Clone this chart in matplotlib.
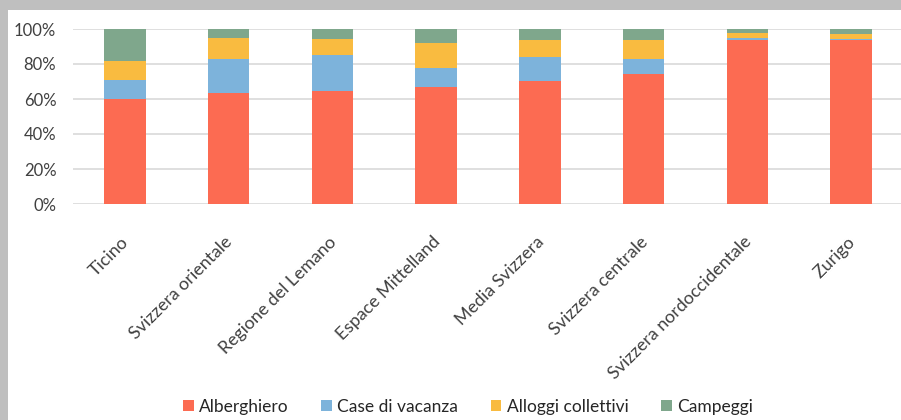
import matplotlib
matplotlib.use("Agg")
import matplotlib.pyplot as plt
from matplotlib.patches import Rectangle
from matplotlib.ticker import FuncFormatter
from matplotlib.transforms import ScaledTranslation
import numpy as np

plt.rcParams['font.family'] = ['Lato', 'DejaVu Sans']

regions = ["Ticino", "Svizzera orientale", "Regione del Lemano", "Espace Mittelland",
           "Media Svizzera", "Svizzera centrale", "Svizzera nordoccidentale", "Zurigo"]
alberghiero = [59.8, 63.4, 64.8, 66.7, 70.3, 74.5, 93.5, 93.5]
case_vacanza = [11.1, 19.3, 20.3, 11.2, 13.7, 8.2, 1.2, 0.6]
alloggi_collettivi = [10.8, 12.2, 9.0, 14.3, 9.5, 10.8, 3.0, 3.0]
campeggi = [18.3, 5.1, 5.9, 7.8, 6.5, 6.5, 2.3, 2.9]

series = [("Alberghiero", alberghiero, "#FC6B52"),
          ("Case di vacanza", case_vacanza, "#7DB3DB"),
          ("Alloggi collettivi", alloggi_collettivi, "#F9BB40"),
          ("Campeggi", campeggi, "#7FA78C")]

W, H = 901, 420
fig = plt.figure(figsize=(W / 100, H / 100), dpi=100, facecolor="#BFBFBF")
fig.patches.append(Rectangle((8 / W, 0), 1, (H - 10) / H, transform=fig.transFigure,
                             facecolor="white", edgecolor="none", zorder=-10))

ax = fig.add_axes([73 / W, (H - 204) / H, (903 - 73) / W, 175 / H])
ax.set_facecolor("none")

x = np.arange(len(regions))
bottom = np.zeros(len(regions))
for name, vals, color in series:
    vals = np.array(vals)
    ax.bar(x, vals, width=0.4, bottom=bottom, color=color, label=name, zorder=3,
           edgecolor="none")
    bottom += vals

ax.set_xlim(-0.5, len(regions) - 0.5)
ax.set_ylim(0, 100)
ax.set_yticks(np.arange(0, 101, 20))
ax.yaxis.set_major_formatter(FuncFormatter(lambda v, p: f"{int(v)}%"))
ax.grid(axis="y", color="#D9D9D9", linewidth=1.2, zorder=0)
for s in ax.spines.values():
    s.set_visible(False)
ax.tick_params(axis="y", length=0, colors="#404040", labelsize=12, pad=12)

# category labels: baseline end sits just right of and below each bar centre
ax.set_xticks(x)
ax.set_xticklabels(regions, rotation=45, ha="right", va="baseline",
                   rotation_mode="anchor")
ax.tick_params(axis="x", length=0, colors="#404040", labelsize=12.8, pad=28)
shift = ScaledTranslation(5 / 100, 0, fig.dpi_scale_trans)
for lbl in ax.get_xticklabels():
    lbl.set_transform(lbl.get_transform() + shift)

leg = fig.legend(loc="center", bbox_to_anchor=(468 / W, 1 - 407 / H), ncol=4,
                 frameon=False, fontsize=12.5, handlelength=0.6, handleheight=0.6,
                 handletextpad=0.3, columnspacing=1.9)
for t in leg.get_texts():
    t.set_color("#262626")

fig.savefig("out.png", dpi=100, facecolor=fig.get_facecolor())
